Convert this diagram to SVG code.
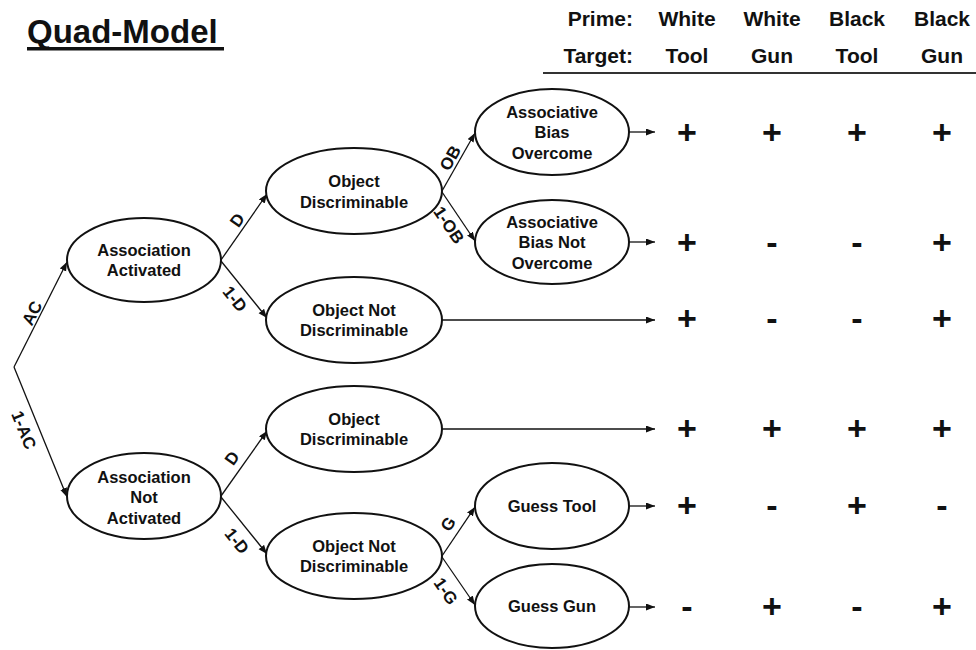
<svg xmlns="http://www.w3.org/2000/svg" width="976" height="650" viewBox="0 0 976 650">
<defs>
<marker id="arr" markerUnits="userSpaceOnUse" markerWidth="10" markerHeight="8" refX="9" refY="3.5" orient="auto">
<path d="M0,0 L9,3.5 L0,7 z" fill="#111"/>
</marker>
<style>
text{font-family:"Liberation Sans",Arial,sans-serif;font-weight:bold;fill:#111}
.node ellipse{fill:#fff;stroke:#111;stroke-width:2}
.node text{font-size:16.5px;text-anchor:middle}
.conn line{stroke:#111;stroke-width:1.3;marker-end:url(#arr)}
.lbl{font-size:17px;text-anchor:middle}
.hdr{font-size:21px;text-anchor:middle}
.hdrl{font-size:21px;text-anchor:end}
.sign{font-size:34px;text-anchor:middle}
</style>
</defs>
<rect width="976" height="650" fill="#fff"/>

<g id="title">
<text x="27" y="43" style="font-size:33px">Quad-Model</text>
<rect x="27" y="47" width="197" height="3.5" fill="#111"/>
</g>

<g id="header">
<text class="hdrl" x="633" y="26">Prime:</text>
<text class="hdr" x="687" y="26">White</text>
<text class="hdr" x="772" y="26">White</text>
<text class="hdr" x="857" y="26">Black</text>
<text class="hdr" x="942" y="26">Black</text>
<text class="hdrl" x="633" y="63">Target:</text>
<text class="hdr" x="687" y="63">Tool</text>
<text class="hdr" x="772" y="63">Gun</text>
<text class="hdr" x="857" y="63">Tool</text>
<text class="hdr" x="942" y="63">Gun</text>
<line x1="543" y1="73" x2="976" y2="73" stroke="#333" stroke-width="2"/>
</g>

<g id="connectors" class="conn">
<line x1="14" y1="367" x2="67" y2="262"/>
<line x1="14" y1="367" x2="67" y2="497"/>
<line x1="221" y1="260" x2="267" y2="194"/>
<line x1="221" y1="261" x2="267" y2="318"/>
<line x1="442" y1="191" x2="475" y2="133"/>
<line x1="442" y1="192" x2="475" y2="241"/>
<line x1="221" y1="496" x2="267" y2="431"/>
<line x1="221" y1="497" x2="267" y2="554"/>
<line x1="442" y1="556" x2="475" y2="507"/>
<line x1="442" y1="557" x2="475" y2="605"/>
<line x1="629" y1="132" x2="655" y2="132"/>
<line x1="629" y1="242" x2="655" y2="242"/>
<line x1="442" y1="320" x2="655" y2="320"/>
<line x1="442" y1="429" x2="655" y2="429"/>
<line x1="629" y1="506" x2="655" y2="506"/>
<line x1="629" y1="607" x2="655" y2="607"/>
</g>

<g id="edge-labels">
<text class="lbl" transform="translate(32,313) rotate(-63.2)" y="6">AC</text>
<text class="lbl" transform="translate(24,430) rotate(67.8)" y="6">1-AC</text>
<text class="lbl" transform="translate(237,220) rotate(-55.1)" y="6">D</text>
<text class="lbl" transform="translate(235,299) rotate(51.1)" y="6">1-D</text>
<text class="lbl" transform="translate(450,158) rotate(-60.4)" y="6">OB</text>
<text class="lbl" transform="translate(449,225) rotate(56)" y="6">1-OB</text>
<text class="lbl" transform="translate(232,458) rotate(-54.7)" y="6">D</text>
<text class="lbl" transform="translate(237,541) rotate(51.1)" y="6">1-D</text>
<text class="lbl" transform="translate(448,524) rotate(-56)" y="6">G</text>
<text class="lbl" transform="translate(446,591) rotate(55.5)" y="6">1-G</text>
</g>

<g id="assoc-activated" class="node">
<ellipse cx="144" cy="260" rx="77" ry="42"/>
<text x="144" y="256">Association</text>
<text x="144" y="276">Activated</text>
</g>
<g id="assoc-not-activated" class="node">
<ellipse cx="144" cy="496" rx="77" ry="43"/>
<text x="144" y="483">Association</text>
<text x="144" y="503">Not</text>
<text x="144" y="524">Activated</text>
</g>
<g id="obj-disc-1" class="node">
<ellipse cx="354" cy="191" rx="88" ry="43"/>
<text x="354" y="187">Object</text>
<text x="354" y="207.5">Discriminable</text>
</g>
<g id="obj-not-disc-1" class="node">
<ellipse cx="354" cy="320" rx="88" ry="43"/>
<text x="354" y="315.5">Object Not</text>
<text x="354" y="336">Discriminable</text>
</g>
<g id="bias-overcome" class="node">
<ellipse cx="552" cy="132" rx="77" ry="43"/>
<text x="552" y="117.5">Associative</text>
<text x="552" y="138">Bias</text>
<text x="552" y="158.5">Overcome</text>
</g>
<g id="bias-not-overcome" class="node">
<ellipse cx="552" cy="242" rx="77" ry="42"/>
<text x="552" y="227.5">Associative</text>
<text x="552" y="248">Bias Not</text>
<text x="552" y="268.5">Overcome</text>
</g>
<g id="obj-disc-2" class="node">
<ellipse cx="354" cy="429" rx="88" ry="43"/>
<text x="354" y="424.5">Object</text>
<text x="354" y="445">Discriminable</text>
</g>
<g id="obj-not-disc-2" class="node">
<ellipse cx="354" cy="556" rx="88" ry="43"/>
<text x="354" y="551.5">Object Not</text>
<text x="354" y="572">Discriminable</text>
</g>
<g id="guess-tool" class="node">
<ellipse cx="552" cy="506" rx="77" ry="43"/>
<text x="552" y="512">Guess Tool</text>
</g>
<g id="guess-gun" class="node">
<ellipse cx="552" cy="606" rx="77" ry="42"/>
<text x="552" y="612">Guess Gun</text>
</g>

<g id="outcomes" class="sign">
<text class="sign" x="687" y="144">+</text>
<text class="sign" x="772" y="144">+</text>
<text class="sign" x="857" y="144">+</text>
<text class="sign" x="942" y="144">+</text>
<text class="sign" x="687" y="254">+</text>
<text class="sign" x="772" y="254">-</text>
<text class="sign" x="857" y="254">-</text>
<text class="sign" x="942" y="254">+</text>
<text class="sign" x="687" y="330">+</text>
<text class="sign" x="772" y="330">-</text>
<text class="sign" x="857" y="330">-</text>
<text class="sign" x="942" y="330">+</text>
<text class="sign" x="687" y="440">+</text>
<text class="sign" x="772" y="440">+</text>
<text class="sign" x="857" y="440">+</text>
<text class="sign" x="942" y="440">+</text>
<text class="sign" x="687" y="517">+</text>
<text class="sign" x="772" y="517">-</text>
<text class="sign" x="857" y="517">+</text>
<text class="sign" x="942" y="517">-</text>
<text class="sign" x="687" y="618">-</text>
<text class="sign" x="772" y="618">+</text>
<text class="sign" x="857" y="618">-</text>
<text class="sign" x="942" y="618">+</text>
</g>
</svg>
